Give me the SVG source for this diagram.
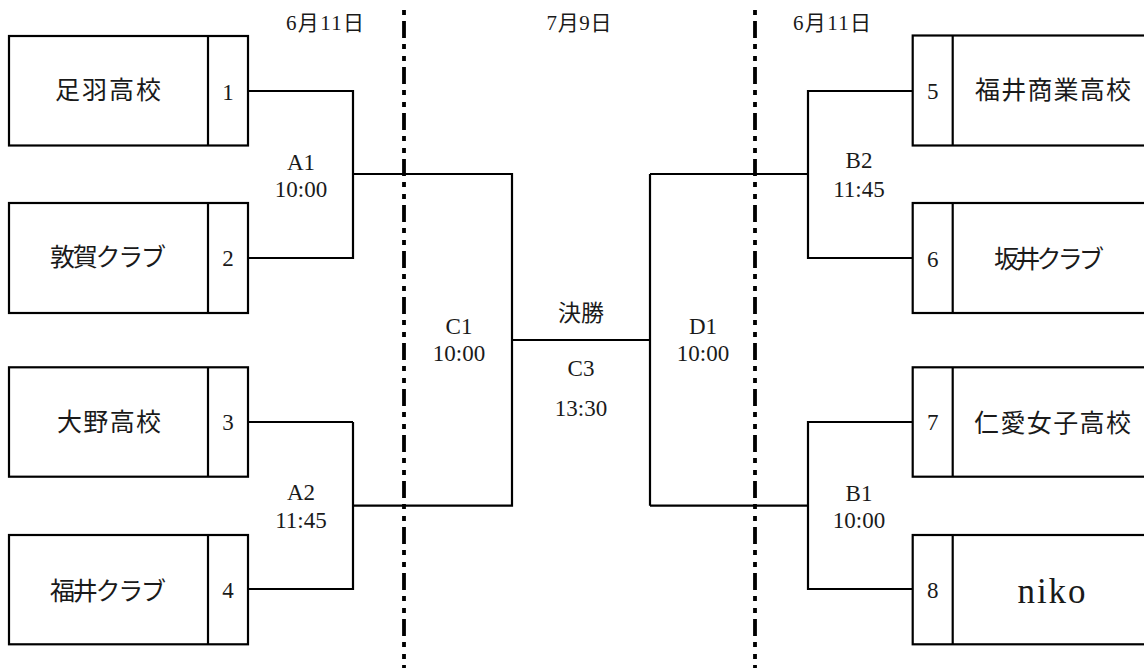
<svg xmlns="http://www.w3.org/2000/svg" width="1144" height="668" viewBox="0 0 1144 668">
<style>
.bx{fill:#fff;stroke:#000;stroke-width:2.2}
.ln{fill:none;stroke:#000;stroke-width:2.2}
.dv{fill:none;stroke:#000;stroke-width:3.8;stroke-dasharray:5 6 17 6 5 7}
text{font-family:"Liberation Serif","Noto Sans CJK JP",serif;fill:#1a1a1a;text-anchor:middle}
.nm{font-size:25px}
.no{font-size:23px}
.lb{font-size:23px}
.dt{font-size:21px}
</style>
<rect width="1144" height="668" fill="#fff"/>
<g id="dividers">
<line class="dv" x1="404" y1="10" x2="404" y2="668"/>
<line class="dv" x1="755" y1="10" x2="755" y2="668"/>
</g>
<g id="dates">
<text class="dt" x="325" y="30" textLength="78" lengthAdjust="spacing">6月11日</text>
<text class="dt" x="579" y="30" textLength="65" lengthAdjust="spacing">7月9日</text>
<text class="dt" x="832" y="30" textLength="78" lengthAdjust="spacing">6月11日</text>
</g>
<g id="connectors">
<path class="ln" d="M248 91H353V258H248M353 174H512V505.7H353M353 422H248M353 422V589H248"/>
<path class="ln" d="M512 340H650M650 174V505.7M650 174H808M650 505.7H808"/>
<path class="ln" d="M912.7 91H808V258H912.7M912.7 422H808V589H912.7"/>
</g>
<g id="team1">
<rect class="bx" x="9" y="36" width="239" height="109.5"/>
<line class="ln" x1="208" y1="36" x2="208" y2="145.5"/>
<text class="nm" x="108" y="98.5" textLength="106" lengthAdjust="spacing">足羽高校</text>
<text class="no" x="228" y="99.5">1</text>
</g>
<g id="team2">
<rect class="bx" x="9" y="203" width="239" height="110"/>
<line class="ln" x1="208" y1="203" x2="208" y2="313"/>
<text class="nm" x="108" y="266" textLength="116" lengthAdjust="spacing">敦賀クラブ</text>
<text class="no" x="228" y="266">2</text>
</g>
<g id="team3">
<rect class="bx" x="9" y="367.3" width="239" height="109.4"/>
<line class="ln" x1="208" y1="367.3" x2="208" y2="476.7"/>
<text class="nm" x="109" y="431" textLength="104" lengthAdjust="spacing">大野高校</text>
<text class="no" x="228" y="430">3</text>
</g>
<g id="team4">
<rect class="bx" x="9" y="535" width="239" height="109.3"/>
<line class="ln" x1="208" y1="535" x2="208" y2="644.3"/>
<text class="nm" x="108" y="599.5" textLength="116" lengthAdjust="spacing">福井クラブ</text>
<text class="no" x="228" y="598.3">4</text>
</g>
<g id="team5">
<rect class="bx" x="912.7" y="35.5" width="240" height="110"/>
<line class="ln" x1="952.7" y1="35.5" x2="952.7" y2="145.5"/>
<text class="nm" x="1053" y="99" textLength="156" lengthAdjust="spacing">福井商業高校</text>
<text class="no" x="932.7" y="99.3">5</text>
</g>
<g id="team6">
<rect class="bx" x="912.7" y="203" width="240" height="110"/>
<line class="ln" x1="952.7" y1="203" x2="952.7" y2="313"/>
<text class="nm" x="1049" y="267.5" textLength="110" lengthAdjust="spacing">坂井クラブ</text>
<text class="no" x="932.7" y="266.7">6</text>
</g>
<g id="team7">
<rect class="bx" x="912.7" y="367.3" width="240" height="109.4"/>
<line class="ln" x1="952.7" y1="367.3" x2="952.7" y2="476.7"/>
<text class="nm" x="1052.5" y="432" textLength="157" lengthAdjust="spacing">仁愛女子高校</text>
<text class="no" x="932.7" y="430">7</text>
</g>
<g id="team8">
<rect class="bx" x="912.7" y="535" width="240" height="109.3"/>
<line class="ln" x1="952.7" y1="535" x2="952.7" y2="644.3"/>
<text x="1051.5" y="603.3" font-size="35" textLength="68" lengthAdjust="spacing">niko</text>
<text class="no" x="932.7" y="598.3">8</text>
</g>
<g id="matchA1">
<text class="lb" x="301" y="169.5">A1</text>
<text class="lb" x="301" y="197">10:00</text>
</g>
<g id="matchA2">
<text class="lb" x="301" y="500">A2</text>
<text class="lb" x="301" y="528.3">11:45</text>
</g>
<g id="matchB2">
<text class="lb" x="859" y="168.3">B2</text>
<text class="lb" x="859" y="196.7">11:45</text>
</g>
<g id="matchB1">
<text class="lb" x="859" y="500.7">B1</text>
<text class="lb" x="859" y="528.3">10:00</text>
</g>
<g id="matchC1">
<text class="lb" x="459" y="334.3">C1</text>
<text class="lb" x="459" y="360.7">10:00</text>
</g>
<g id="matchD1">
<text class="lb" x="703" y="334.3">D1</text>
<text class="lb" x="703" y="360.7">10:00</text>
</g>
<g id="final">
<text class="lb" x="581" y="321">決勝</text>
<text class="lb" x="581" y="375.7">C3</text>
<text class="lb" x="581" y="415.7">13:30</text>
</g>
</svg>
